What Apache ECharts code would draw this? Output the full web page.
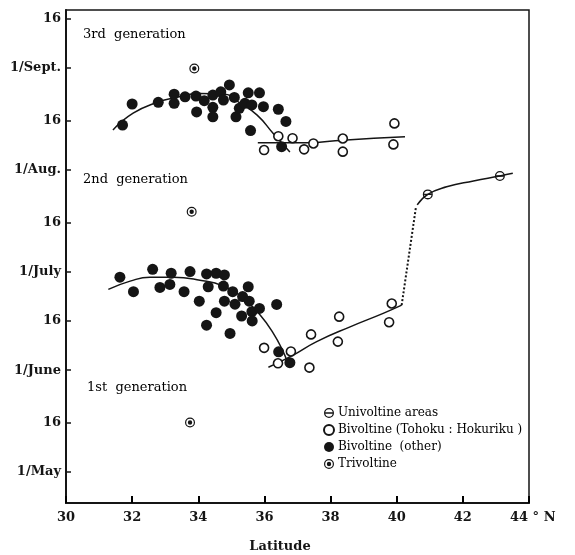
<!DOCTYPE html>
<html>
<head>
<meta charset="utf-8">
<script src="https://cdn.jsdelivr.net/npm/echarts@6/dist/echarts.min.js"></script>
<style>
  html, body { margin: 0; padding: 0; background: #fff; }
</style>
</head>
<body>
<div id="main" style="width: 575px;height:555px;"></div>
<script>
// y values are days counted from 1 May
var dayTicks = [0, 15, 31, 46, 61, 76, 92, 107, 123, 138]
var dayLabels = ['1/May', '16', '1/June', '16', '1/July', '16', '1/Aug.', '16', '1/Sept.', '16']
var latTicks = [30, 32, 34, 36, 38, 40, 42, 44]

// 3rd generation
var bivOther3 = [
  [31.71, 105.6], [32.00, 112.0], [32.79, 112.5], [33.27, 115.0], [33.27, 112.2], [33.60, 114.2],
  [33.93, 114.4], [33.95, 109.6], [34.18, 113.0], [34.44, 114.7], [34.44, 111.0], [34.44, 108.1],
  [34.68, 115.7], [34.76, 113.2], [34.94, 117.8], [35.09, 114.0], [35.14, 108.1], [35.24, 110.7],
  [35.41, 112.2], [35.51, 115.4], [35.62, 111.7], [35.85, 115.4], [35.97, 111.2], [36.42, 110.4],
  [36.65, 106.7], [35.58, 103.9], [36.52, 99.0]
]
var bivTohoku3 = [
  [36.42, 102.2], [36.85, 101.6], [35.99, 98.0], [37.20, 98.2], [37.48, 100.0],
  [38.37, 101.5], [38.37, 97.5], [39.93, 106.1], [39.90, 99.7]
]
// 2nd generation
var bivOther2 = [
  [31.63, 59.3], [32.04, 54.9], [32.62, 61.7], [32.84, 56.2], [33.18, 60.5], [33.14, 57.1],
  [33.57, 54.9], [33.75, 61.0], [34.03, 52.0], [34.25, 60.3], [34.30, 56.4], [34.54, 60.5],
  [34.79, 60.0], [34.76, 56.6], [35.04, 54.9], [34.79, 52.0], [34.54, 48.5], [34.25, 44.7],
  [34.96, 42.2], [35.11, 51.1], [35.51, 56.4], [35.34, 53.4], [35.54, 52.0], [35.31, 47.5],
  [35.62, 48.8], [35.63, 46.0], [35.85, 49.8], [36.37, 51.0], [36.43, 36.6], [36.77, 33.3]
]
var bivTohoku2 = [
  [35.99, 37.8], [36.80, 36.7], [36.41, 33.1], [37.41, 41.9], [37.36, 31.8],
  [38.26, 47.3], [38.22, 39.7], [39.85, 51.3], [39.77, 45.6]
]
var univoltine = [[40.94, 84.5], [43.12, 90.1]]
var trivoltine = [[33.88, 122.8], [33.80, 79.2], [33.75, 15.1]]

// fitted curves
var curve3a = [[31.42, 104.1], [32.03, 109.2], [32.78, 112.6], [33.24, 113.8], [34.05, 115.2], [34.81, 115.0],
  [35.26, 112.3], [35.78, 108.6], [36.26, 103.1], [36.77, 97.4]]
var curve3b = [[35.80, 100.2], [37.28, 100.2], [38.37, 101.0], [40.25, 102.0]]
var curve2a = [[31.28, 55.6], [31.94, 58.1], [32.54, 59.3], [33.24, 59.3], [34.05, 58.4], [34.76, 56.6],
  [35.36, 52.9], [35.87, 47.8], [36.27, 42.2], [36.57, 36.6], [36.67, 34.1]]
var curve2b = [[36.12, 31.9], [36.87, 35.6], [37.58, 39.7], [38.59, 44.2], [39.59, 48.3], [40.15, 50.8]]
var curveJump = [[40.15, 50.8], [40.58, 80.5]]
var curveUni = [[40.62, 81.3], [40.94, 84.5], [41.51, 86.8], [42.32, 88.6], [43.12, 90.1], [43.51, 90.9]]

var ink = '#151515'
var serif = 'DejaVu Serif'

// symbols: ring with bar, ring with dot
var thetaPath = 'path://M0,5A5,5 0 1,0 10,5A5,5 0 1,0 0,5Z' +
  'M1.3,5A3.7,3.7 0 1,1 8.7,5A3.7,3.7 0 1,1 1.3,5Z' +
  'M1.4,4.35L8.6,4.35L8.6,5.65L1.4,5.65Z'
var dotRingPath = 'path://M0,5A5,5 0 1,0 10,5A5,5 0 1,0 0,5Z' +
  'M1.2,5A3.8,3.8 0 1,1 8.8,5A3.8,3.8 0 1,1 1.2,5Z' +
  'M2.8,5A2.2,2.2 0 1,0 7.2,5A2.2,2.2 0 1,0 2.8,5Z'

function curve (data, type) {
  return {
    type: 'line',
    data: data,
    smooth: type !== 'dotted',
    showSymbol: false,
    silent: true,
    z: 1,
    lineStyle: { color: ink, width: type === 'dotted' ? 2 : 1.5, type: type || 'solid' }
  }
}

var myChart = echarts.init(document.getElementById('main'))
var option = {
  backgroundColor: '#fff',
  animation: false,
  grid: {
    left: 66,
    right: 46,
    top: 10,
    bottom: 52,
    show: true,
    borderColor: ink,
    borderWidth: 1.5
  },
  xAxis: {
    type: 'value',
    min: 30,
    max: 44,
    interval: 2,
    axisLine: { show: true, onZero: false, lineStyle: { color: ink, width: 2 } },
    axisTick: { show: true, inside: true, length: 7, lineStyle: { color: '#000', width: 2 } },
    splitLine: { show: false },
    axisLabel: {
      color: ink,
      fontFamily: serif,
      fontWeight: 'bold',
      fontSize: 13,
      margin: 8,
      formatter: function (v) { return v === 44 ? '' : String(v) }
    }
  },
  yAxis: {
    type: 'value',
    min: -9.4,
    max: 140.6,
    axisLine: { show: true, onZero: false, lineStyle: { color: ink, width: 2 } },
    axisTick: { show: true, inside: true, length: 5, customValues: dayTicks, lineStyle: { color: ink, width: 1.5 } },
    splitLine: { show: false },
    axisLabel: {
      color: ink,
      fontFamily: serif,
      fontWeight: 'bold',
      fontSize: 13,
      margin: 5,
      customValues: dayTicks,
      formatter: function (v) { return dayLabels[dayTicks.indexOf(v)] }
    }
  },
  legend: {
    orient: 'vertical',
    left: 323,
    top: 407,
    padding: 0,
    itemWidth: 10,
    itemHeight: 10,
    itemGap: 5,
    selectedMode: false,
    data: ['Univoltine areas', 'Bivoltine (Tohoku : Hokuriku )', 'Bivoltine  (other)', 'Trivoltine'],
    textStyle: { color: '#000', fontFamily: serif, fontSize: 12, lineHeight: 12, padding: [0, 0, 0, -1] }
  },
  graphic: [
    { type: 'text', style: { text: '3rd  generation', x: 83, y: 35, font: '13px "DejaVu Serif"', fill: '#000', textVerticalAlign: 'middle' } },
    { type: 'text', style: { text: '2nd  generation', x: 83, y: 180, font: '13px "DejaVu Serif"', fill: '#000', textVerticalAlign: 'middle' } },
    { type: 'text', style: { text: '1st  generation', x: 87, y: 388, font: '13px "DejaVu Serif"', fill: '#000', textVerticalAlign: 'middle' } },
    { type: 'text', style: { text: '44 ° N', x: 510, y: 518, font: 'bold 13px "DejaVu Serif"', fill: ink, textVerticalAlign: 'middle' } },
    { type: 'text', style: { text: 'Latitude', x: 280, y: 547, font: 'bold 13px "DejaVu Serif"', fill: ink, textAlign: 'center', textVerticalAlign: 'middle' } }
  ],
  series: [
    curve(curve3a),
    curve(curve3b),
    curve(curve2a),
    curve(curve2b),
    curve(curveJump, 'dotted'),
    curve(curveUni),
    {
      name: 'Univoltine areas',
      type: 'scatter',
      symbol: thetaPath,
      symbolSize: 10,
      z: 3,
      itemStyle: { color: ink, opacity: 1 },
      data: univoltine
    },
    {
      name: 'Bivoltine (Tohoku : Hokuriku )',
      type: 'scatter',
      symbol: 'circle',
      symbolSize: 9,
      z: 4,
      itemStyle: { color: '#fff', borderColor: ink, borderWidth: 1.6, opacity: 1 },
      data: bivTohoku3.concat(bivTohoku2)
    },
    {
      name: 'Bivoltine  (other)',
      type: 'scatter',
      symbol: 'circle',
      symbolSize: 11,
      z: 3,
      itemStyle: { color: ink, opacity: 1 },
      data: bivOther3.concat(bivOther2)
    },
    {
      name: 'Trivoltine',
      type: 'scatter',
      symbol: dotRingPath,
      symbolSize: 10,
      z: 3,
      itemStyle: { color: ink, opacity: 1 },
      data: trivoltine
    }
  ]
}
option && myChart.setOption(option)
</script>
</body>
</html>
